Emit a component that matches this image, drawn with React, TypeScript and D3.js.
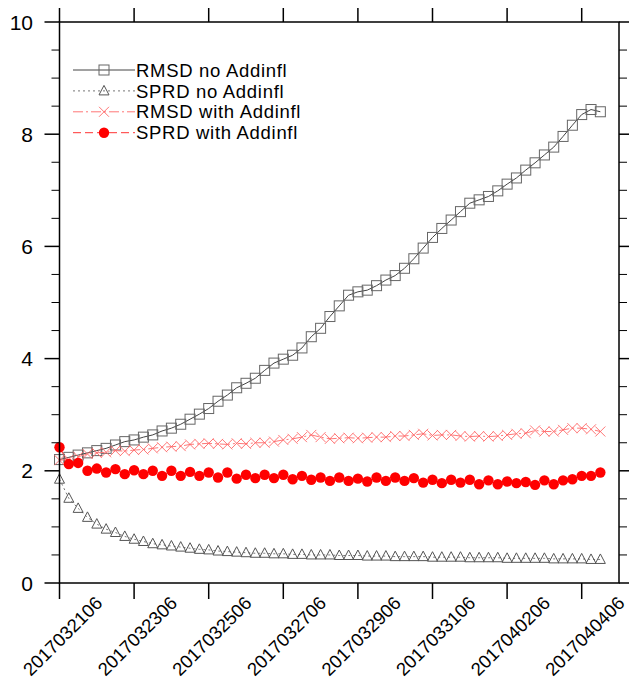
import * as d3 from "d3";

// 6-hourly steps starting 2017032106
const tickIndex = [0, 8, 16, 24, 32, 40, 48, 56];
const tickLabels = [
  "2017032106", "2017032306", "2017032506", "2017032706",
  "2017032906", "2017033106", "2017040206", "2017040406",
];
const yTicks = [0, 2, 4, 6, 8, 10];

const rmsdNo = [
  2.20, 2.24, 2.28, 2.32, 2.36, 2.40, 2.46, 2.52, 2.55, 2.60,
  2.64, 2.71, 2.76, 2.83, 2.92, 3.01, 3.11, 3.24, 3.35, 3.48,
  3.56, 3.65, 3.79, 3.92, 3.99, 4.06, 4.19, 4.39, 4.54, 4.75,
  4.94, 5.13, 5.19, 5.22, 5.30, 5.40, 5.48, 5.61, 5.78, 5.97,
  6.16, 6.32, 6.47, 6.62, 6.77, 6.83, 6.89, 6.99, 7.11, 7.22,
  7.36, 7.49, 7.63, 7.77, 7.96, 8.16, 8.35, 8.44, 8.40,
];
const sprdNo = [
  1.85, 1.51, 1.33, 1.17, 1.05, 0.96, 0.90, 0.83, 0.78, 0.74,
  0.70, 0.68, 0.66, 0.64, 0.62, 0.60, 0.59, 0.57, 0.56, 0.55,
  0.54, 0.53, 0.53, 0.52, 0.52, 0.51, 0.51, 0.50, 0.50, 0.50,
  0.49, 0.49, 0.49, 0.48, 0.48, 0.48, 0.47, 0.47, 0.47, 0.47,
  0.46, 0.46, 0.46, 0.46, 0.45, 0.45, 0.45, 0.45, 0.44, 0.44,
  0.44, 0.44, 0.44, 0.43, 0.43, 0.43, 0.43, 0.42, 0.42,
];
const rmsdWith = [
  2.19, 2.20, 2.25, 2.30, 2.32, 2.33, 2.36, 2.35, 2.37, 2.38,
  2.40, 2.42, 2.43, 2.44, 2.47, 2.48, 2.49, 2.48, 2.47, 2.49,
  2.48, 2.50, 2.50, 2.52, 2.55, 2.57, 2.60, 2.64, 2.60, 2.57,
  2.58, 2.59, 2.58, 2.59, 2.60, 2.60, 2.62, 2.62, 2.64, 2.66,
  2.63, 2.64, 2.64, 2.62, 2.61, 2.62, 2.61, 2.62, 2.64, 2.66,
  2.67, 2.72, 2.70, 2.70, 2.73, 2.76, 2.76, 2.74, 2.70,
];
const sprdWith = [
  2.42, 2.12, 2.14, 2.00, 2.04, 1.97, 2.03, 1.94, 2.01, 1.94,
  2.00, 1.91, 2.00, 1.91, 1.98, 1.91, 1.97, 1.88, 1.97, 1.86,
  1.93, 1.87, 1.93, 1.87, 1.93, 1.85, 1.91, 1.84, 1.88, 1.82,
  1.88, 1.82, 1.86, 1.81, 1.88, 1.82, 1.88, 1.82, 1.87, 1.79,
  1.84, 1.78, 1.84, 1.79, 1.84, 1.76, 1.83, 1.76, 1.81, 1.78,
  1.80, 1.75, 1.83, 1.76, 1.83, 1.85, 1.91, 1.91, 1.97,
];

const legendNames = [
  "RMSD no Addinfl", "SPRD no Addinfl", "RMSD with Addinfl", "SPRD with Addinfl",
];

const W = 629, H = 684;
const FONT = "'Liberation Sans', Arial, Helvetica, sans-serif";

const styles = [
  { line: "#444", width: 1, dash: "none", marker: "square", color: "#666" },
  { line: "#777", width: 1, dash: "2,3", marker: "triangle", color: "#555" },
  { line: "#f77", width: 1, dash: "10,3,2,3", marker: "cross", color: "#f66" },
  { line: "#f33", width: 1, dash: "8,4", marker: "circle", color: "#f00" },
];

function Marker({ type, x, y, color }: { type: string; x: number; y: number; color: string }) {
  if (type === "square")
    return <rect x={x - 5} y={y - 5} width={10} height={10} fill="none" stroke={color} strokeWidth={1} />;
  if (type === "triangle")
    return (
      <path d={`M${x},${y - 5.5}L${x + 5},${y + 4}L${x - 5},${y + 4}Z`} fill="none" stroke={color} strokeWidth={1} />
    );
  if (type === "cross")
    return (
      <path d={`M${x - 5},${y - 5}L${x + 5},${y + 5}M${x - 5},${y + 5}L${x + 5},${y - 5}`} stroke={color} strokeWidth={0.9} />
    );
  return <circle cx={x} cy={y} r={5.2} fill={color} />;
}

export default function App() {
  const left = 59.5, right = 619, top = 22, bottom = 583;
  const x = d3.scaleLinear().domain([0, 60]).range([left, right]);
  const y = d3.scaleLinear().domain([0, 10]).range([bottom, top]);
  const series = [rmsdNo, sprdNo, rmsdWith, sprdWith];
  const line = d3.line<number>().x((_, i) => x(i)).y((d) => y(d));
  const minor = d3.range(0, 10.01, 0.5).filter((v) => v % 2 !== 0);

  return (
    <svg width={W} height={H} style={{ position: "absolute", left: 0, top: 0, background: "#fff" }}>
      {/* series */}
      {series.map((s, k) => (
        <g key={k}>
          <path d={line(s) || ""} fill="none" stroke={styles[k].line} strokeWidth={styles[k].width}
            strokeDasharray={styles[k].dash} />
          {s.map((v, i) => (
            <Marker key={i} type={styles[k].marker} x={x(i)} y={y(v)} color={styles[k].color} />
          ))}
        </g>
      ))}

      {/* frame */}
      <rect x={left} y={top} width={right - left} height={bottom - top} fill="none" stroke="#000" strokeWidth={1.5} />

      {/* y ticks left and right */}
      {yTicks.map((t) => (
        <g key={t}>
          <line x1={left - 15} x2={left} y1={y(t)} y2={y(t)} stroke="#000" strokeWidth={1.5} />
          <line x1={right} x2={right + 15} y1={y(t)} y2={y(t)} stroke="#000" strokeWidth={1.5} />
          <text x={33} y={y(t)} dy="0.36em" textAnchor="end" fontSize={21} fontFamily={FONT}>{t}</text>
        </g>
      ))}
      {minor.map((t) => (
        <g key={t}>
          <line x1={left - 8} x2={left} y1={y(t)} y2={y(t)} stroke="#000" strokeWidth={1} />
          <line x1={right} x2={right + 8} y1={y(t)} y2={y(t)} stroke="#000" strokeWidth={1} />
        </g>
      ))}

      {/* x ticks bottom and top */}
      {tickIndex.map((t, i) => (
        <g key={t}>
          <line x1={x(t)} x2={x(t)} y1={bottom} y2={bottom + 16} stroke="#000" strokeWidth={1.5} />
          <line x1={x(t)} x2={x(t)} y1={top - 14} y2={top} stroke="#000" strokeWidth={1.5} />
          <text transform={`translate(${x(t) + 3},${bottom + 53}) rotate(-45)`} textAnchor="middle" dy="0.36em"
            fontSize={18.5} fontFamily={FONT}>{tickLabels[i]}</text>
        </g>
      ))}

      {/* legend */}
      {legendNames.map((name, k) => {
        const ly = 70 + k * 20.9;
        return (
          <g key={name}>
            <line x1={73} x2={135} y1={ly} y2={ly} stroke={styles[k].line} strokeWidth={1}
              strokeDasharray={styles[k].dash} />
            <Marker type={styles[k].marker} x={104} y={ly} color={styles[k].color} />
            <text x={136} y={ly} dy="0.36em" fontSize={18.5} letterSpacing={0.7} fontFamily={FONT}>{name}</text>
          </g>
        );
      })}
    </svg>
  );
}
